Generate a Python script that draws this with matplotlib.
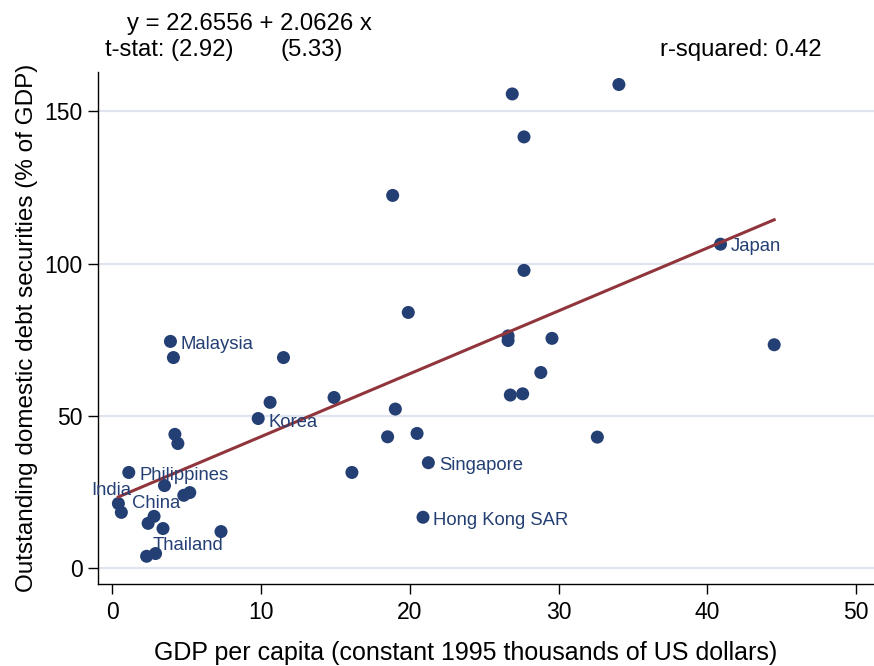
import matplotlib
matplotlib.use('Agg')
import matplotlib.pyplot as plt

# ---------------- data ----------------
gdp = [34.05, 26.88, 27.67, 18.84, 40.88, 27.67, 19.89, 3.9, 4.1, 11.5,
       26.6, 26.6, 29.55, 44.49, 28.8, 26.75, 27.58, 14.9, 10.6, 19.02,
       9.8, 4.2, 4.4, 18.5, 20.48, 32.6, 16.1, 21.24, 1.1, 3.5,
       4.8, 5.2, 0.4, 0.6, 2.8, 2.4, 3.4, 7.3, 20.88, 2.3, 2.9]
debt = [158.8, 155.7, 141.6, 122.4, 106.4, 97.8, 84.0, 74.5, 69.2, 69.2,
        76.3, 74.8, 75.5, 73.4, 64.3, 56.9, 57.3, 56.1, 54.5, 52.3,
        49.2, 44.0, 41.0, 43.2, 44.3, 43.1, 31.5, 34.7, 31.5, 27.2,
        24.0, 24.9, 21.3, 18.4, 17.1, 14.8, 13.1, 12.1, 16.8, 4.0, 4.9]
names = ['', '', '', '', 'Japan', '', '', 'Malaysia', '', '',
         '', '', '', '', '', '', '', '', '', '',
         'Korea', '', '', '', '', '', '', 'Singapore', 'Philippines', '',
         '', '', 'India', 'China', '', '', '', '', 'Hong Kong SAR', '', 'Thailand']
intercept = 22.6556
slope = 2.0626
eq_text = 'y = 22.6556 + 2.0626 x'
tstat_text1 = 't-stat: (2.92)'
tstat_text2 = '(5.33)'
r2_text = 'r-squared: 0.42'
xticks = [0, 10, 20, 30, 40, 50]
yticks = [0, 50, 100, 150]
xlabel = 'GDP per capita (constant 1995 thousands of US dollars)'
ylabel = 'Outstanding domestic debt securities (% of GDP)'

# ---------------- style ----------------
plt.rcParams['font.family'] = ['Liberation Sans', 'DejaVu Sans']
navy = '#243f73'
maroon = '#90353b'
grid_col = '#dfe4ee'
W, H = 874, 666

# label offsets in points (dx, dy, ha)
label_style = {
    'Japan': (7.5, -2, 'left'),
    'Malaysia': (7.5, -2, 'left'),
    'Korea': (7.5, -3, 'left'),
    'Singapore': (7.5, -2, 'left'),
    'Philippines': (7.5, -2, 'left'),
    'Hong Kong SAR': (7.5, -2, 'left'),
    'India': (9, 9.5, 'right'),
    'China': (7.5, 6.5, 'left'),
    'Thailand': (-2, 5.5, 'left'),
}

fig = plt.figure(figsize=(W / 100, H / 100), dpi=100)
ax = fig.add_axes([98 / W, (H - 584) / H, (W - 98) / W, (584 - 72) / H])

ax.set_xlim(-0.97, 51.2)
ax.set_ylim(-5.1, 162.9)

for yt in yticks:
    ax.axhline(yt, color=grid_col, lw=1.6, zorder=0)

ax.scatter(gdp, debt, s=88, color=navy, edgecolors='none', zorder=3)

x0, x1 = min(gdp), max(gdp)
ax.plot([x0, x1], [intercept + slope * x0, intercept + slope * x1],
        color=maroon, lw=2.2, zorder=4, solid_capstyle='projecting')

for x, y, n in zip(gdp, debt, names):
    if n:
        dx, dy, ha = label_style[n]
        ax.annotate(n, (x, y), xytext=(dx, dy), textcoords='offset points',
                    ha=ha, va='center', fontsize=13.3, color=navy, zorder=5)

ax.spines['top'].set_visible(False)
ax.spines['right'].set_visible(False)
for s in ('left', 'bottom'):
    ax.spines[s].set_linewidth(1.0)
    ax.spines[s].set_color('black')

ax.set_xticks(xticks)
ax.set_yticks(yticks)
ax.tick_params(axis='both', direction='out', length=7, width=1.0,
               labelsize=16.5, colors='black')
ax.tick_params(axis='x', pad=5)
ax.tick_params(axis='y', pad=4)

fig.text(148 / W + (783 - 148) / 2 / W, 1 - 653 / H, xlabel,
         ha='center', va='center', fontsize=18)
fig.text(27 / W, 1 - 328 / H, ylabel, rotation=90,
         ha='center', va='center', fontsize=17.5)

fig.text(127 / W, 1 - 24 / H, eq_text, ha='left', va='center', fontsize=17.2)
fig.text(105 / W, 1 - 50 / H, tstat_text1, ha='left', va='center', fontsize=17.2)
fig.text(281 / W, 1 - 50 / H, tstat_text2, ha='left', va='center', fontsize=17.2)
fig.text(822 / W, 1 - 50 / H, r2_text, ha='right', va='center', fontsize=17.2)

fig.savefig('out.png', dpi=100)
